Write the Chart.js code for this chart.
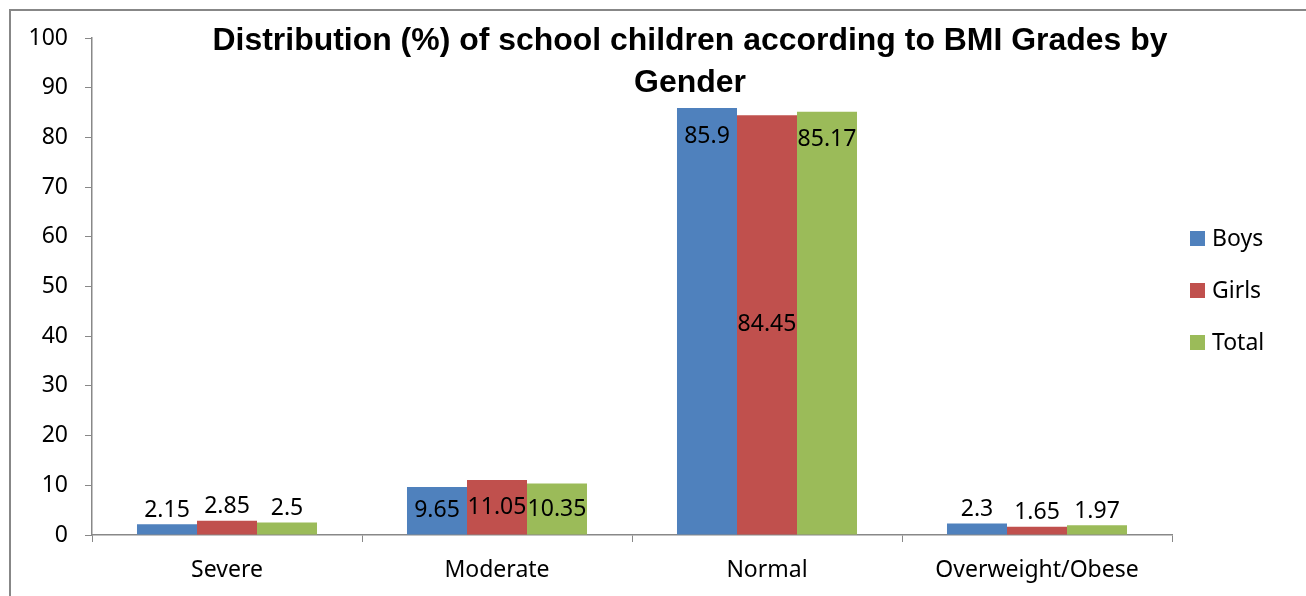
<!DOCTYPE html>
<html>
<head>
<meta charset="utf-8">
<title>BMI Grades by Gender</title>
<script src="https://cdn.jsdelivr.net/npm/chart.js@4/dist/chart.umd.min.js"></script>
<style>
  html, body { margin: 0; padding: 0; background: #fff; }
  canvas { display: block; }
</style>
</head>
<body>
<canvas id="bmiChart" width="1306" height="596"></canvas>
<script>
"use strict";

// BMI grade categories and percentages per group
var grades = ['Severe', 'Moderate', 'Normal', 'Overweight/Obese'];
var boys = [2.15, 9.65, 85.9, 2.3];
var girls = [2.85, 11.05, 84.45, 1.65];
var total = [2.5, 10.35, 85.17, 1.97];
var seriesNames = ['Boys', 'Girls', 'Total'];
var yTicks = [0, 10, 20, 30, 40, 50, 60, 70, 80, 90, 100];

var titleLines = ['Distribution (%) of school children according to BMI Grades by', 'Gender'];

var colors = ['#4F81BD', '#C0504D', '#9BBB59'];
var axisColor = '#888888';
var fontFamily = '"Noto Sans", "Open Sans", sans-serif';

// where each value label sits: out = above bar, inEnd = inside top, center = middle
var labelPos = [
    ['out', 'out', 'out'],
    ['center', 'center', 'center'],
    ['inEnd', 'center', 'inEnd'],
    ['out', 'out', 'out']
];

Chart.defaults.font.family = fontFamily;
Chart.defaults.font.size = 23;
Chart.defaults.color = '#000';

// Frame, title, legend and value labels
var decorPlugin = {
    id: 'decor',
    beforeDraw: function (chart) {
        var ctx = chart.ctx;
        ctx.save();
        ctx.fillStyle = '#fff';
        ctx.fillRect(0, 0, chart.width, chart.height);
        ctx.strokeStyle = '#878787';
        ctx.lineWidth = 2;
        ctx.strokeRect(10, 10, chart.width + 50, chart.height + 50);
        ctx.restore();
    },
    afterDraw: function (chart) {
        var ctx = chart.ctx;
        ctx.save();

        // value labels
        ctx.font = '23px ' + fontFamily;
        ctx.fillStyle = '#000';
        ctx.textAlign = 'center';
        ctx.textBaseline = 'middle';
        chart.data.datasets.forEach(function (ds, di) {
            var meta = chart.getDatasetMeta(di);
            meta.data.forEach(function (bar, i) {
                var mode = labelPos[i][di];
                var y;
                if (mode === 'out') {
                    y = bar.y - 14;
                } else if (mode === 'inEnd') {
                    y = bar.y + 28;
                } else {
                    y = (bar.y + bar.base) / 2;
                }
                ctx.fillText(String(ds.data[i]), bar.x, y);
            });
        });

        // title, drawn over the plot area
        ctx.font = 'bold 32px "Liberation Sans", Arial, sans-serif';
        ctx.textBaseline = 'alphabetic';
        ctx.fillText(titleLines[0], 690, 50, 955);
        ctx.fillText(titleLines[1], 690, 92);

        // legend on the right
        ctx.font = '23px ' + fontFamily;
        ctx.textAlign = 'left';
        ctx.textBaseline = 'middle';
        chart.data.datasets.forEach(function (ds, di) {
            var top = 231 + di * 52;
            ctx.fillStyle = ds.backgroundColor;
            ctx.fillRect(1190, top, 15, 15);
            ctx.fillStyle = '#000';
            ctx.fillText(ds.label, 1212, top + 8);
        });
        ctx.restore();
    }
};

var ctx = document.getElementById('bmiChart').getContext('2d');
var chart = new Chart(ctx, {
    type: 'bar',
    data: {
        labels: grades,
        datasets: [boys, girls, total].map(function (values, i) {
            return {
                label: seriesNames[i],
                data: values,
                backgroundColor: colors[i],
                borderWidth: 0,
                categoryPercentage: 0.6667,
                barPercentage: 1.0
            };
        })
    },
    options: {
        responsive: false,
        animation: false,
        devicePixelRatio: 1,
        layout: { padding: { top: 38, right: 134, bottom: 0, left: 0 } },
        plugins: {
            legend: { display: false },
            title: { display: false },
            tooltip: { enabled: false }
        },
        scales: {
            x: {
                grid: {
                    offset: true,
                    drawOnChartArea: false,
                    drawTicks: true,
                    tickLength: 7,
                    color: axisColor
                },
                border: { display: true, color: axisColor, width: 1.5 },
                ticks: { padding: 15, color: '#000' },
                afterFit: function (scale) { scale.height = 61; }
            },
            y: {
                min: 0,
                max: 100,
                afterBuildTicks: function (scale) {
                    scale.ticks = yTicks.map(function (v) { return { value: v }; });
                },
                grid: {
                    drawOnChartArea: false,
                    drawTicks: true,
                    tickLength: 7,
                    color: axisColor
                },
                border: { display: true, color: axisColor, width: 1.5 },
                ticks: { padding: 17, color: '#000' },
                afterFit: function (scale) { scale.width = 92; }
            }
        }
    },
    plugins: [decorPlugin]
});
</script>
</body>
</html>
